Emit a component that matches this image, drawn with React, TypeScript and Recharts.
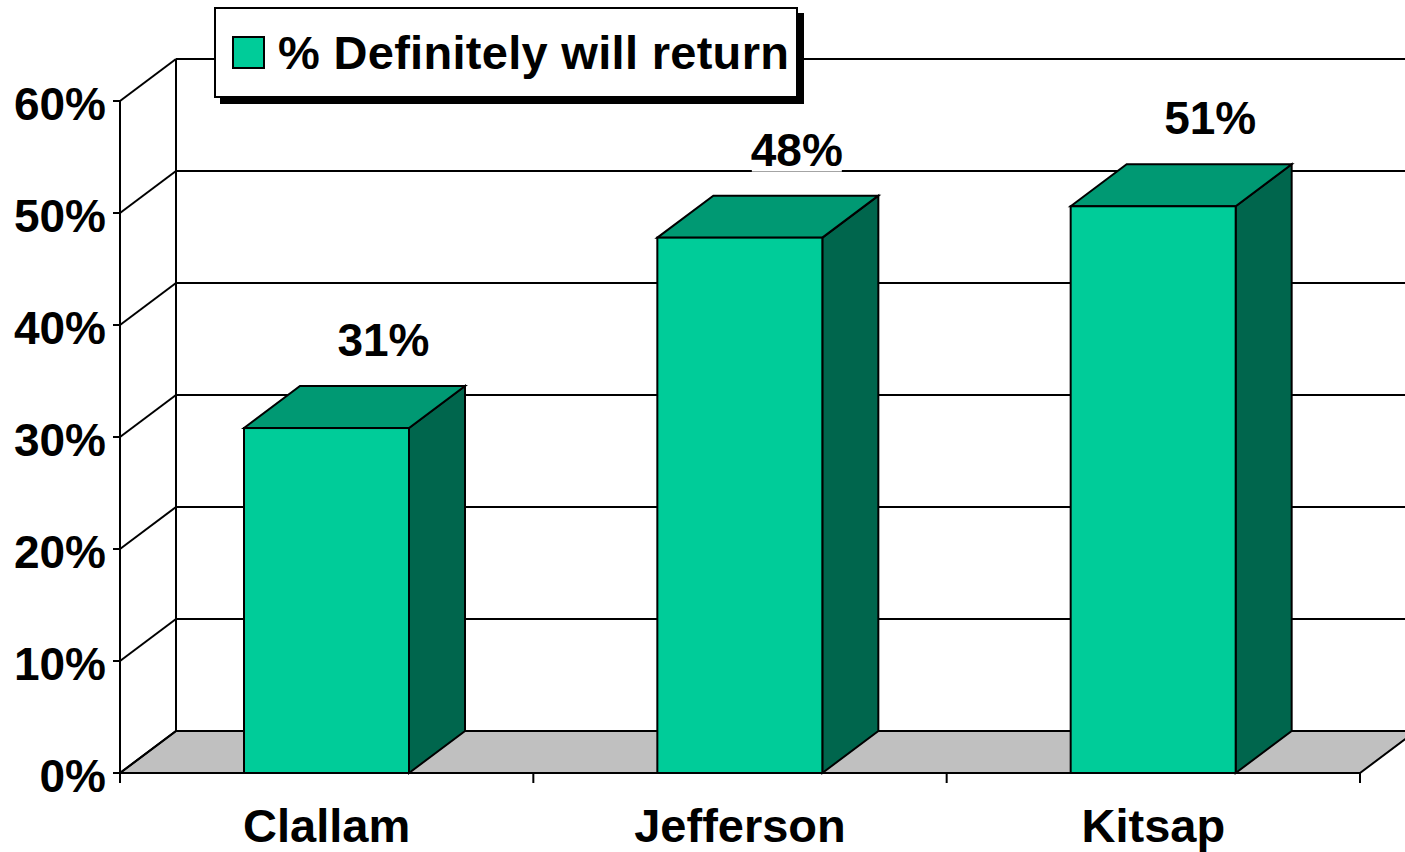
import React from "react"
import {
  BarChart,
  Bar,
  XAxis,
  YAxis,
  CartesianGrid,
  Legend,
  LabelList,
} from "recharts"

const counties = ["Clallam", "Jefferson", "Kitsap"]
const definitelyReturn = [30.8, 47.8, 50.6]
const yTicks = [0, 10, 20, 30, 40, 50, 60]
const seriesName = "% Definitely will return"

const FRONT = "#00CC99"
const TOP = "#009973"
const SIDE = "#00664D"
const FLOOR = "#C0C0C0"
const FONT = "'Liberation Sans', Arial, sans-serif"
const DX = 56
const DY = 42

const data = counties.map((name, i) => ({ name, value: definitelyReturn[i] }))

function Box3D(props: any) {
  const { x, y, width, height } = props
  const r = x + width
  const b = y + height
  return (
    <g stroke="#000" strokeWidth={2} strokeLinejoin="miter">
      <polygon
        points={`${r},${y} ${r + DX},${y - DY} ${r + DX},${b - DY} ${r},${b}`}
        fill={SIDE}
      />
      <polygon
        points={`${x},${y} ${x + DX},${y - DY} ${r + DX},${y - DY} ${r},${y}`}
        fill={TOP}
      />
      <rect x={x} y={y} width={width} height={height} fill={FRONT} />
    </g>
  )
}

// back wall lines, left side diagonals and the grey floor
function WallLine(p: any) {
  const { x1, x2, y1, key } = p
  const bottom = p.y + p.height
  const isFloor = Math.abs(y1 - bottom) < 0.5
  return (
    <g key={key} stroke="#000" strokeWidth={2}>
      {isFloor ? (
        <>
          <polygon
            points={`${x1},${y1} ${x2},${y1} ${x2 + DX},${y1 - DY} ${x1 + DX},${y1 - DY}`}
            fill={FLOOR}
          />
          <line x1={x1 + DX} y1={p.y - DY} x2={x1 + DX} y2={bottom - DY} />
        </>
      ) : (
        <line x1={x1 + DX} y1={y1 - DY} x2={x2 + DX} y2={y1 - DY} />
      )}
      <line x1={x1} y1={y1} x2={x1 + DX} y2={y1 - DY} />
    </g>
  )
}

function YTick(props: any) {
  const { x, y, payload } = props
  return (
    <text x={x} y={y + 19} textAnchor="end" fontFamily={FONT} fontWeight="bold" fontSize={46} fill="#000">
      {`${payload.value}%`}
    </text>
  )
}

function XTick(props: any) {
  const { x, y, payload, index } = props
  const half = payload.offset ?? 206.67
  return (
    <g>
      <line x1={x - half} y1={y} x2={x - half} y2={y + 10} stroke="#000" strokeWidth={2} />
      {index === counties.length - 1 && (
        <line x1={x + half} y1={y} x2={x + half} y2={y + 10} stroke="#000" strokeWidth={2} />
      )}
      <text x={x} y={y + 69} textAnchor="middle" fontFamily={FONT} fontWeight="bold" fontSize={47} fill="#000">
        {payload.value}
      </text>
    </g>
  )
}

function ValueLabel(props: any) {
  const { x, y, width, value } = props
  const cx = x + width / 2 + 57
  const base = y - 72
  return (
    <g>
      <rect x={cx - 45} y={base - 40} width={90} height={46} fill="#fff" />
      <text x={cx} y={base} textAnchor="middle" fontFamily={FONT} fontWeight="bold" fontSize={46} fill="#000">
        {`${Math.round(value)}%`}
      </text>
    </g>
  )
}

function LegendBox(props: any) {
  const item = props.payload?.[0]
  return (
    <div
      style={{
        boxSizing: "border-box",
        width: 584,
        height: 91,
        border: "2px solid #000",
        background: "#fff",
        boxShadow: "6px 6px 0 #000",
        display: "flex",
        alignItems: "center",
        paddingLeft: 16,
        fontFamily: FONT,
        fontWeight: "bold",
        fontSize: 47,
        color: "#000",
        whiteSpace: "nowrap",
      }}
    >
      <span
        style={{
          display: "inline-block",
          boxSizing: "border-box",
          width: 33,
          height: 33,
          background: FRONT,
          border: "2px solid #000",
          marginRight: 13,
        }}
      />
      <span style={{ letterSpacing: 0.3 }}>{item ? item.value : seriesName}</span>
    </div>
  )
}

export default function App() {
  return (
    <div style={{ position: "absolute", left: 0, top: 0, width: 1405, height: 852, background: "#fff" }}>
      <BarChart
        width={1405}
        height={852}
        data={data}
        margin={{ top: 101, right: 45, bottom: 0, left: 0 }}
        barCategoryGap="30%"
      >
        <CartesianGrid vertical={false} horizontal={WallLine} />
        <XAxis
          dataKey="name"
          height={79}
          tickSize={0}
          tickMargin={0}
          tickLine={false}
          axisLine={{ stroke: "#000", strokeWidth: 2 }}
          tick={XTick}
          interval={0}
        />
        <YAxis
          width={120}
          domain={[0, 60]}
          ticks={yTicks}
          interval={0}
          tickSize={7}
          tickMargin={7}
          tickLine={{ stroke: "#000", strokeWidth: 2 }}
          axisLine={{ stroke: "#000", strokeWidth: 2 }}
          tick={YTick}
        />
        <Legend
          verticalAlign="middle"
          align="center"
          layout="horizontal"
          wrapperStyle={{ top: 7, left: 214, width: "auto", height: "auto" }}
          content={LegendBox}
        />
        <Bar dataKey="value" name={seriesName} fill={FRONT} shape={Box3D} isAnimationActive={false}>
          <LabelList dataKey="value" content={ValueLabel} />
        </Bar>
      </BarChart>
    </div>
  )
}
